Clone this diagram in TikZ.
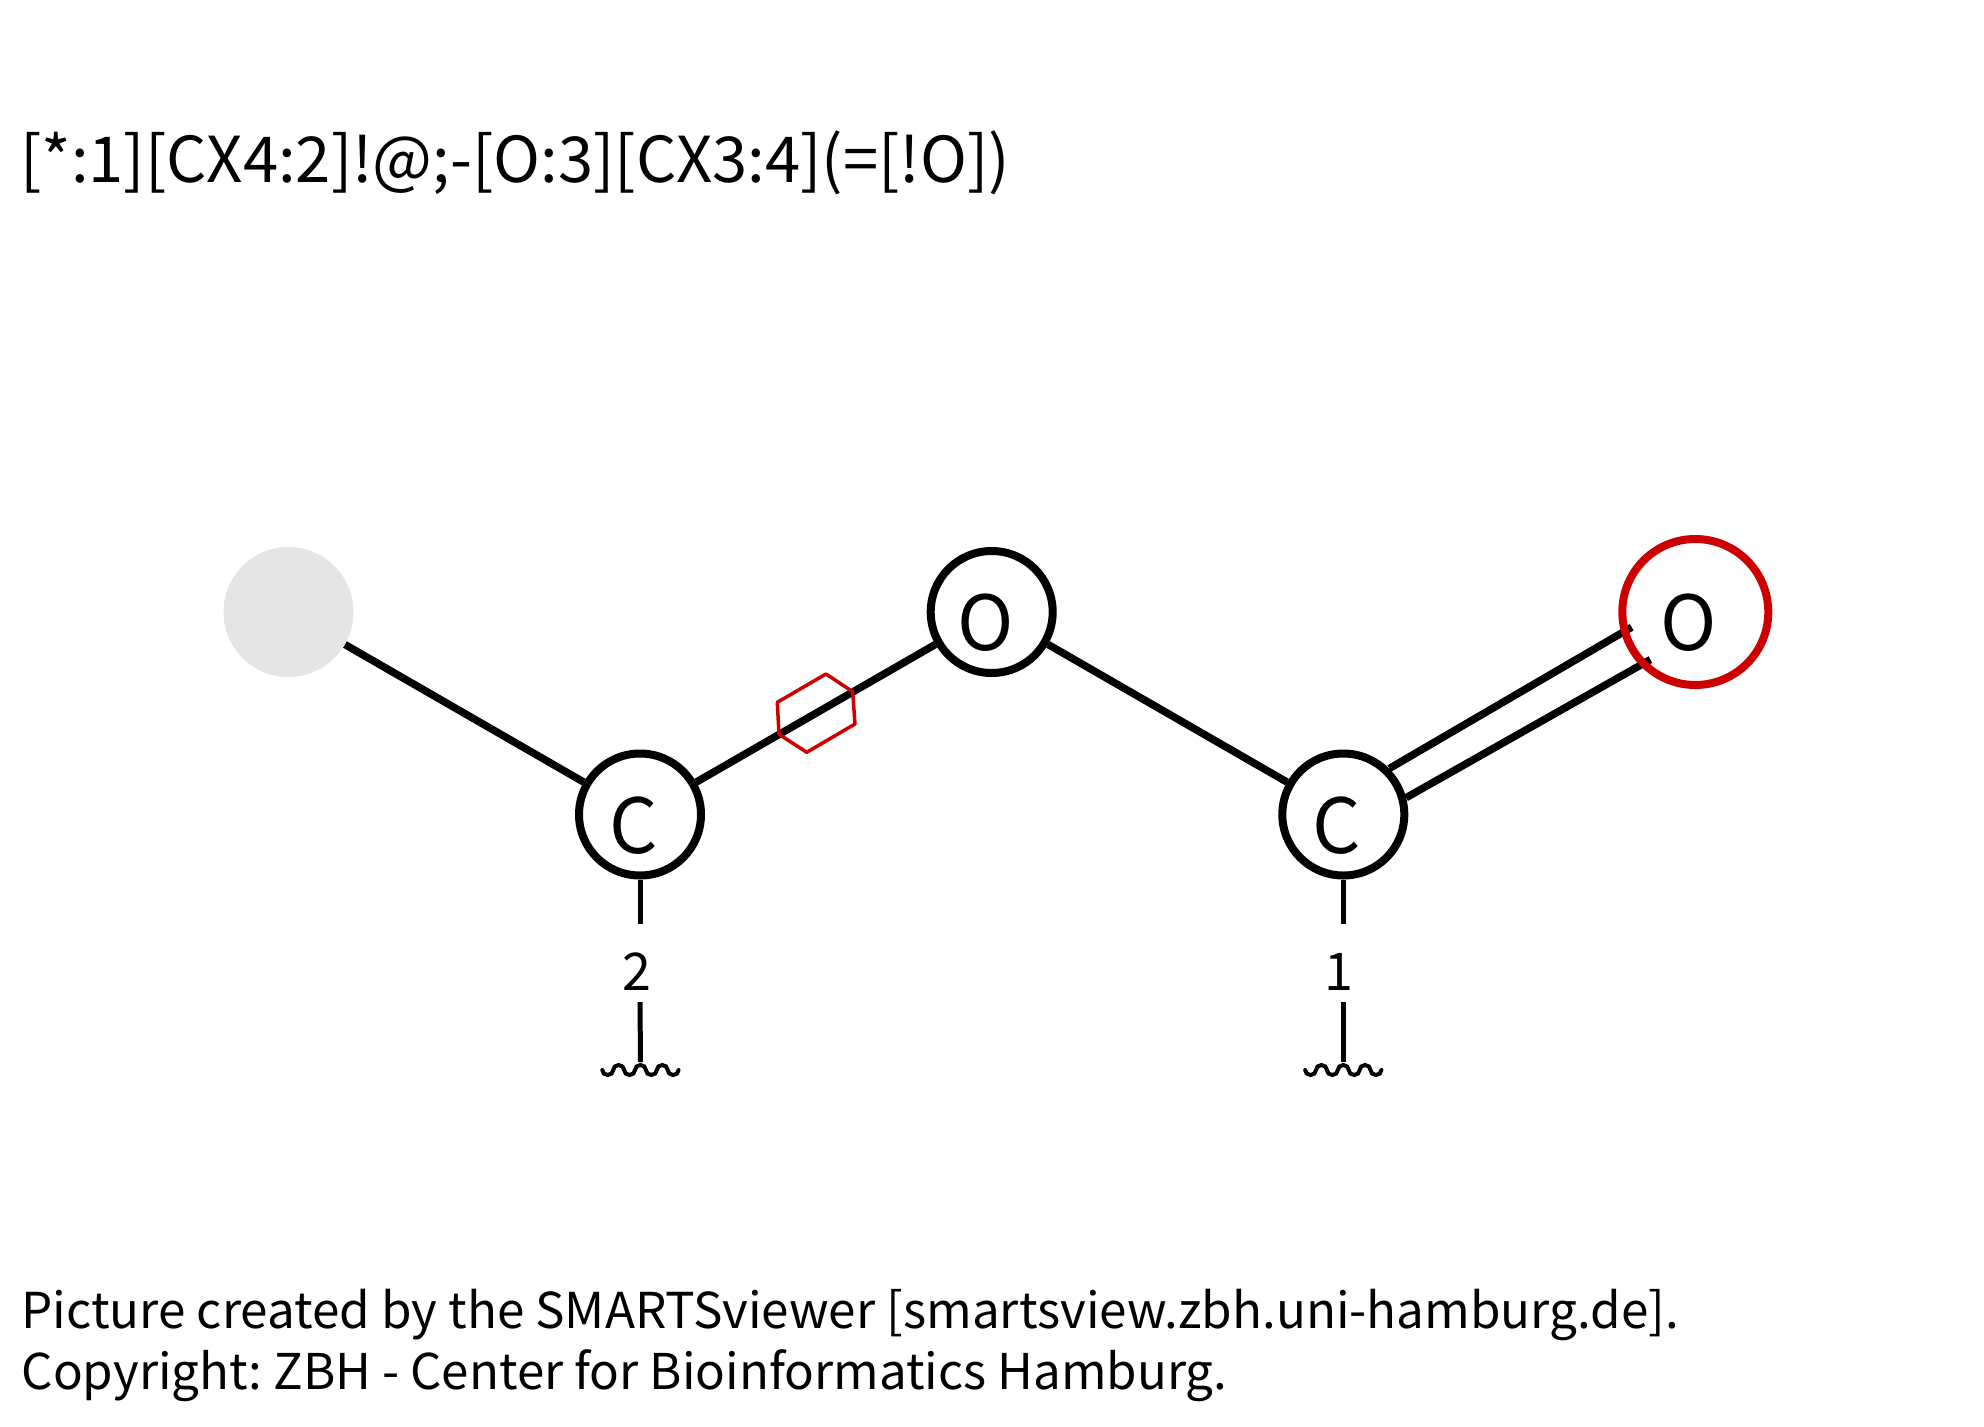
\documentclass[tikz,border=0pt]{standalone}
\usepackage{fontspec}
\setmainfont{Noto Sans CJK SC}
\usetikzlibrary{backgrounds}
\definecolor{marked}{HTML}{CC0000}
\definecolor{anyatom}{HTML}{E5E5E5}
\newcommand{\atomlabel}[1]{\smash{\raisebox{-38.5pt}{\makebox[0pt]{\hspace{-13pt}#1}}}}
\newcommand{\wavedip}{arc[start angle=180,end angle=0,x radius=5.45,y radius=5]}
\newcommand{\wavehump}{arc[start angle=180,end angle=360,x radius=5.45,y radius=5]}
\newcommand{\wavyline}[1]{\draw[wave] ([shift={(-38.2,8)}]#1) \wavedip\wavehump\wavedip\wavehump\wavedip\wavehump\wavedip;}
\tikzset{
	atom/.style={circle,draw=black,fill=white,line width=8pt,minimum size=122pt,inner sep=0pt,font=\fontsize{76}{76}\selectfont},
	notatom/.style={atom,draw=marked,fill=none,minimum size=146pt},
	anything/.style={circle,fill=anyatom,minimum size=130pt,inner sep=0pt,outer sep=0pt},
	bond/.style={line width=7.5pt},
	stem/.style={line width=5pt},
	mapnum/.style={anchor=base,inner sep=0pt,text height=66pt,text depth=12pt,font=\fontsize{52}{52}\selectfont},
	wave/.style={line width=4pt,line cap=round},
	caption/.style={anchor=base west,inner sep=0pt}
}
\begin{document}
\frenchspacing
\begin{tikzpicture}[x=1pt,y=-1pt]
	\useasboundingbox (0,0) rectangle (1984,1427);
	\node[caption,font=\fontsize{63.3}{63.3}\selectfont] (smarts) at (20,182) {[*:1][CX4:2]!@;-[O:3][CX3:4](=[!O])};
	\node[caption,font=\fontsize{49.4}{49.4}\selectfont] (created) at (21.5,1328.3) {Picture created by the SMARTSviewer [smartsview.zbh.uni-hamburg.de].};
	\node[caption,font=\fontsize{49.25}{49.25}\selectfont] (copyright) at (21.5,1389.3) {Copyright: ZBH - Center for Bioinformatics Hamburg.};
	% atoms
	\node[anything] (any) at (288.5,612) {};
	\node[atom] (cB) at (640,814.5) {\atomlabel{C}};
	\node[atom] (oA) at (991.7,612) {\atomlabel{O}};
	\node[atom] (cA) at (1343.3,814.5) {\atomlabel{C}};
	\node[notatom] (oB) at (1695.3,612) {\atomlabel{O}};
	% bonds
	\begin{scope}[on background layer]
		\draw[bond] (any) -- (cB);
		\draw[bond] (cB) -- (oA);
		\draw[bond] (oA) -- (cA);
		\draw[bond,shorten >=-12pt] (cA.45) -- (oB.196);
		\draw[bond,shorten >=-12pt] (cA.15) -- (oB.224);
	\end{scope}
	% not in a ring
	\draw[marked,line width=3.5pt,line join=round] (777.3,702.3) -- (826,674) -- (852.7,691.7) -- (855,724) -- (806.7,752.3) -- (779,734.3) -- cycle;
	% atom map numbers
	\node[mapnum] (numB) at (637,990) {2};
	\node[mapnum] (numA) at (1338.5,990) {1};
	\coordinate (waveB) at (640.5,1062);
	\coordinate (waveA) at (1343.3,1062);
	\draw[stem] (cB.south) -- (numB.north -| cB);
	\draw[stem] (numB.south -| cB) -- (waveB);
	\draw[stem] (cA.south) -- (numA.north -| cA);
	\draw[stem] (numA.south -| cA) -- (waveA);
	\wavyline{waveB}
	\wavyline{waveA}
\end{tikzpicture}
\end{document}
